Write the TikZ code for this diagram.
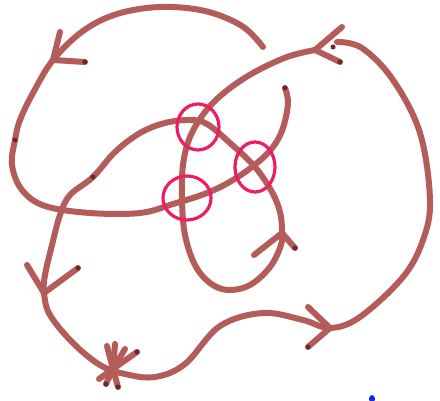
\documentclass[tikz,border=0pt]{standalone}
\definecolor{ink}{RGB}{180,92,90}
\definecolor{inkdark}{RGB}{105,40,42}
\definecolor{ring}{RGB}{238,28,98}
\definecolor{bluemark}{RGB}{20,40,230}
\tikzset{
  strand/.style={draw=ink, line width=6pt, line cap=round, line join=round},
  barb/.style={draw=ink, line width=6pt, line cap=round},
  blot/.style={fill=inkdark},
  vring/.style={draw=ring, line width=3.2pt},
}
\begin{document}
\begin{tikzpicture}[x=1pt,y=-1pt]
\useasboundingbox (0,0) rectangle (440,401);
\fill[white] (0,0) rectangle (440,401);

% open strand: big top-left arc, left side, horizontal, up to free end
\draw[strand] plot[smooth, tension=0.6] coordinates {
  (263,47) (242,26) (205,11) (160,7) (117,14) (83,31) (53,60) (33,93)
  (20,120) (15,140) (12,165) (22,190) (45,206) (90,213) (140,213)
  (173,204) (207,193) (233,180) (257,163) (273,147) (283,128) (288,103) (285,88)};

% closed strand
\draw[strand] plot[smooth, tension=0.6] coordinates {
  (315,50) (287,57) (253,73) (225,92) (205,112) (190,137) (183,165)
  (182,200) (185,235) (195,265) (210,283) (228,290) (250,285) (270,267)
  (281,245) (282,230) (280,212) (272,192) (255,167) (230,143) (207,124)
  (190,120) (165,123) (140,133) (115,152) (93,177) (70,195) (60,215)
  (52,245) (45,275) (44,293) (50,315) (73,343) (100,365) (125,374)
  (155,377) (185,364) (220,326) (263,313) (303,320) (330,328) (360,317)
  (403,277) (423,240) (430,200) (420,133) (393,80) (362,48) (337,42)};

% arrowheads
\coordinate (a1) at (53,60);
\draw[barb] (a1) -- (60,32); \draw[barb] (a1) -- (85,62);
\coordinate (a2) at (315,50);
\draw[barb] (a2) -- (342,27); \draw[barb] (a2) -- (340,62);
\coordinate (a3) at (282,233);
\draw[barb] (a3) -- (254,255); \draw[barb] (a3) -- (295,248);
\coordinate (a4) at (44,293);
\draw[barb] (a4) -- (27,265); \draw[barb] (a4) -- (78,268);
\coordinate (a5) at (330,328);
\draw[barb] (a5) -- (308,307); \draw[barb] (a5) -- (308,347);

% star mark
\coordinate (st) at (113,369);
\draw[barb] (st) -- (107,346);
\draw[barb] (st) -- (115,344);
\draw[barb] (st) -- (125,349);
\draw[barb] (st) -- (137,352);
\draw[barb] (st) -- (106,384);
\draw[barb] (st) -- (118,387);
\draw[barb] (st) -- (99,379);

% pen blots
\foreach \p in {(15,140),(93,177),(285,88),(85,62),(78,268),(295,248),(340,62),(333,47),(308,347),(106,384),(118,387),(137,352)}
  \fill[blot] \p circle (2.5pt);

% virtual crossing rings
\draw[vring] (198,127) ellipse [x radius=21, y radius=23];
\draw[vring] (255,167) ellipse [x radius=20, y radius=25];
\draw[vring] (187,198) ellipse [x radius=24, y radius=22];

% stray blue mark
\fill[bluemark] (372,399) ellipse [x radius=3, y radius=4];
\end{tikzpicture}
\end{document}
